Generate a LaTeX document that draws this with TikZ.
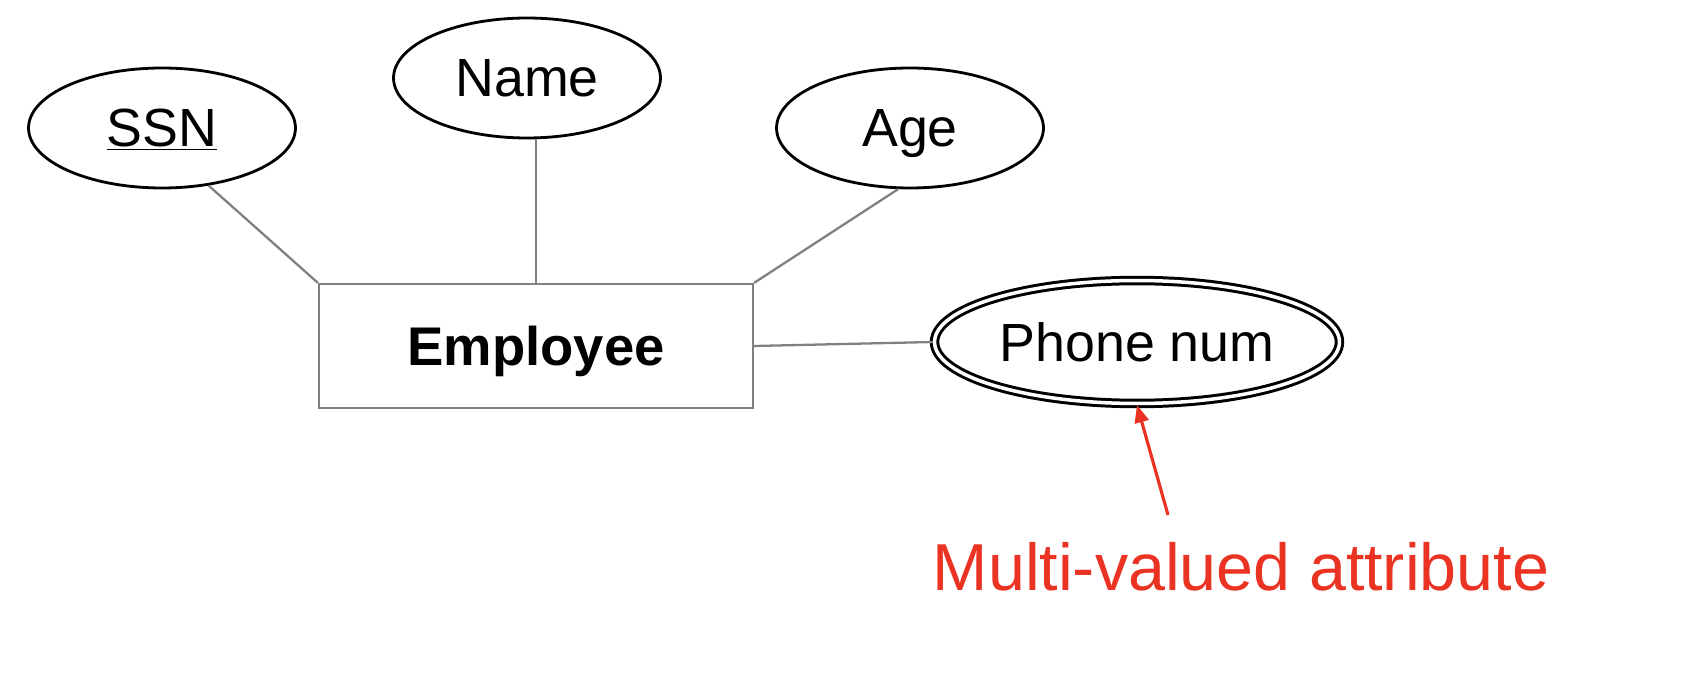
\documentclass[tikz,border=0pt]{standalone}
\usepackage{fontspec}
\setmainfont{Liberation Sans}
\usetikzlibrary{arrows.meta,shapes.geometric}
\definecolor{notered}{RGB}{234,51,35}

\begin{document}
\begin{tikzpicture}[x=0.02cm, y=-0.02cm,
		attr/.style={draw, ellipse, line width=1.6pt, inner sep=0pt, minimum width=5.34cm, minimum height=2.4cm, font=\fontsize{30.6}{36}\selectfont, text depth=0pt},
		multiattr/.style={attr, double, line width=1.7pt, double distance=2pt, minimum width=8.1cm, minimum height=2.46cm},
		entity/.style={draw=gray, line width=1.3pt, minimum width=8.68cm, minimum height=2.48cm, font=\fontsize{31}{36}\selectfont\bfseries, text depth=0pt},
		link/.style={draw=gray, line width=1.3pt}]
	\useasboundingbox (0, 0) rectangle (1708, 692);
	\node[entity] (emp) at (536, 346) {Employee};
	\node[attr] (ssn) at (162, 128) {\underline{SSN}};
	\node[attr] (name) at (527, 78) {Name};
	\node[attr] (age) at (910, 128) {Age};
	\node[multiattr] (phone) at (1137, 342) {Phone num};
	\node[text=notered, font=\fontsize{37.8}{44}\selectfont, text depth=0pt] (note) at (1241, 566) {Multi-valued attribute};
	\coordinate (tail) at (1168, 515);
	\draw[link] (ssn.-51) to (emp.north west);
	\draw[link] (emp.north) to (name.south -| emp.north);
	\draw[link] (age.-101) to (emp.north east);
	\draw[link] (emp.east) to (phone.west);
	\draw[-{Triangle[length=10pt, width=8pt]}, notered, line width=1.8pt] (tail) to (phone.south);
\end{tikzpicture}
\end{document}
